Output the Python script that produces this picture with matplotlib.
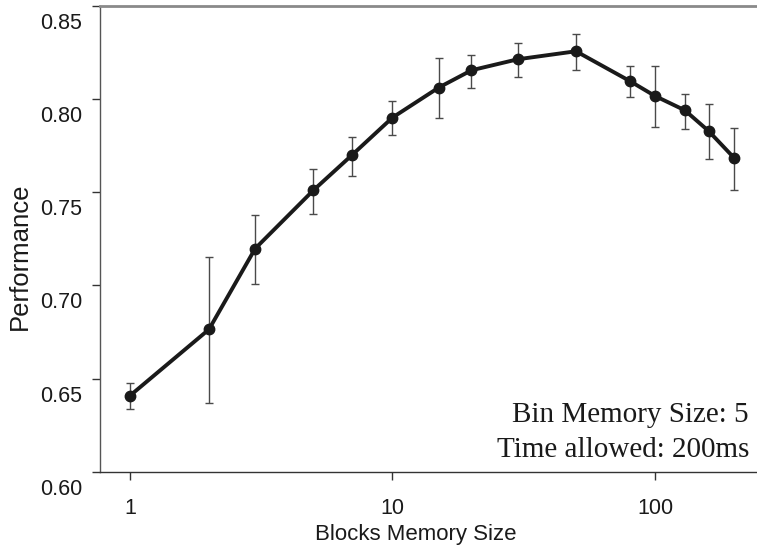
import matplotlib
matplotlib.use("Agg")
import matplotlib.pyplot as plt
import numpy as np
from matplotlib.transforms import ScaledTranslation
from matplotlib.ticker import FixedLocator, NullLocator, FixedFormatter

plt.rcParams["font.family"] = ["Liberation Sans", "DejaVu Sans"]

# Data
block_sizes = [1, 2, 3, 5, 7, 10, 15, 20, 30, 50, 80, 100, 130, 160, 200]
performance = [0.6408, 0.6764, 0.7198, 0.7511, 0.7699, 0.7901, 0.8062, 0.8155,
               0.8214, 0.8257, 0.8098, 0.8017, 0.7940, 0.7829, 0.7685]
err_upper = [0.6474, 0.7150, 0.7377, 0.7624, 0.7797, 0.7990, 0.8223, 0.8239,
             0.8302, 0.8348, 0.8177, 0.8178, 0.8028, 0.7974, 0.7845]
err_lower = [0.6335, 0.6367, 0.7007, 0.7386, 0.7590, 0.7806, 0.7898, 0.8062,
             0.8119, 0.8155, 0.8012, 0.7848, 0.7842, 0.7679, 0.7511]

y_ticks = [0.60, 0.65, 0.70, 0.75, 0.80, 0.85]
y_tick_labels = ["0.60", "0.65", "0.70", "0.75", "0.80", "0.85"]
x_ticks = [1, 10, 100]
x_tick_labels = ["1", "10", "100"]

W, H = 757, 559
AX_L, AX_B, AX_T = 100, 471.7, 6
fig = plt.figure(figsize=(W / 100, H / 100), dpi=100)
ax = fig.add_axes([AX_L / W, (H - AX_B) / H, (W - AX_L) / W, (AX_B - AX_T) / H])

def ax_x(px):
    return (px - AX_L) / (W - AX_L)

def ax_y(py):
    return (AX_B - py) / (AX_B - AX_T)

y = np.array(performance)
yerr = np.vstack([y - np.array(err_lower), np.array(err_upper) - y])

ax.errorbar(block_sizes, performance, yerr=yerr, fmt="none", ecolor="#4a4a4a",
            elinewidth=1.0, capsize=3.2, capthick=1.0, zorder=2)
ax.plot(block_sizes, performance, color="#1a1a1a", lw=2.8, marker="o",
        markersize=7.5, markerfacecolor="#1a1a1a", markeredgecolor="#1a1a1a",
        zorder=3)

ax.set_xscale("log")
ax.set_xlim(0.769, 10 ** ((W - 130) / 262.5))
ax.set_ylim(0.60, 0.85)

ax.xaxis.set_major_locator(FixedLocator(x_ticks))
ax.xaxis.set_major_formatter(FixedFormatter(x_tick_labels))
ax.xaxis.set_minor_locator(NullLocator())
ax.set_yticks(y_ticks)
ax.set_yticklabels(y_tick_labels)

ax.tick_params(axis="both", direction="out", length=6, width=1.0, color="#333333",
               labelsize=15.5, labelcolor="#1a1a1a")
ax.tick_params(axis="y", pad=7)
ax.tick_params(axis="x", pad=13)
offset = ScaledTranslation(0, -15 / 100, fig.dpi_scale_trans)
for lab in ax.get_yticklabels():
    lab.set_transform(lab.get_transform() + offset)

ax.spines["right"].set_visible(False)
ax.spines["top"].set_color("#8a8a8a")
ax.spines["top"].set_linewidth(2.0)
ax.spines["left"].set_color("#555555")
ax.spines["left"].set_linewidth(1.0)
ax.spines["bottom"].set_color("#333333")
ax.spines["bottom"].set_linewidth(1.0)

ax.set_xlabel("Blocks Memory Size", fontsize=16, color="#1a1a1a")
ax.xaxis.label.set_va("baseline")
ax.xaxis.set_label_coords(ax_x(416), ax_y(540))

ax.set_ylabel("Performance", fontsize=18.5, color="#1a1a1a")
ax.yaxis.label.set_va("center")
ax.yaxis.set_label_coords(ax_x(20), ax_y(256))

tx = ax_x(749)
ax.text(tx, ax_y(421.7), "Bin Memory Size: 5", transform=ax.transAxes, ha="right",
        va="baseline", fontsize=21, fontfamily="Liberation Serif", color="#1a1a1a")
ax.text(tx, ax_y(456.7), "Time allowed: 200ms", transform=ax.transAxes, ha="right",
        va="baseline", fontsize=21, fontfamily="Liberation Serif", color="#1a1a1a")

fig.savefig("out.png", dpi=100)
